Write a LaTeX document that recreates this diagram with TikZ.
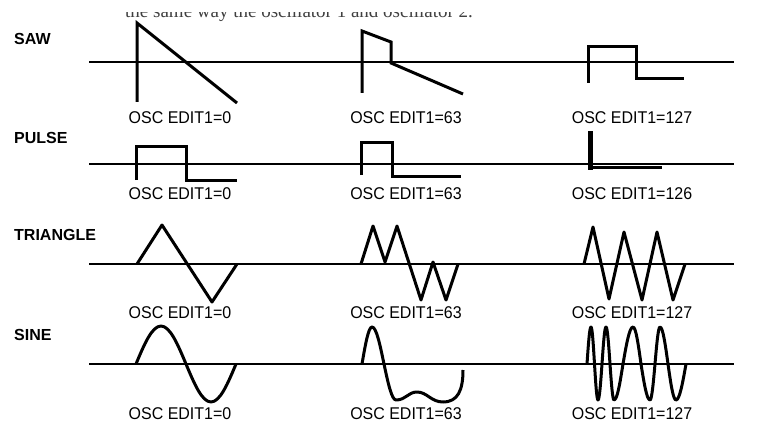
\documentclass[tikz,border=0pt]{standalone}
\usepackage{fontspec}
\setmainfont{Liberation Sans}
\newfontfamily\bodyserif{Liberation Serif}
\newfontfamily\oscfont[FakeStretch=0.94]{Liberation Sans}
\usetikzlibrary{positioning}

\begin{document}
\begin{tikzpicture}[x=1pt, y=-1pt,
    every node/.style={font=\fontsize{16}{18}\selectfont, inner sep=0pt},
    wave/.style={line width=3pt, line join=miter},
    sharpwave/.style={line width=3pt, line join=round},
    axis/.style={line width=2.5pt},
    title/.style={font=\fontsize{16}{18}\selectfont\bfseries, anchor=base west},
    osclabel/.style={anchor=base, font=\oscfont\fontsize{17}{19}\selectfont}]
        \useasboundingbox (0,0) rectangle (769,428);
        \fill[white] (0,0) rectangle (769,428);

        % text line cut off by the page edge
        \begin{scope}
            \clip (0,13) rectangle (769,428);
            \node[anchor=base west, font=\bodyserif\fontsize{19}{21}\selectfont, text=black!75] (intro) at (125,17.5) {the same way the oscillator 1 and oscillator 2.};
        \end{scope}

        % Axes
        \draw[line width=1.3pt] (89,62) -- (734,62);
        \foreach \y in {164,264,364}
            \draw[axis] (89,\y) -- (734,\y);

        % Row titles
        \node[title] (sawtitle) at (14,45) {SAW};
        \node[title] (pulsetitle) at (14,143) {PULSE};
        \node[title] (tritle) at (14,240) {TRIANGLE};
        \node[title] (sinetitle) at (14,340) {SINE};

        % Labels
        \foreach \row/\y/\last in {saw/123/127, pulse/199/126, tri/318/127, sine/419/127} {
            \node[osclabel] (\row-0) at (180,\y) {OSC EDIT1=0};
            \node[osclabel] (\row-63) at (406,\y) {OSC EDIT1=63};
            \node[osclabel] (\row-\last) at (632,\y) {OSC EDIT1=\last};
        }

        % SAW
        \draw[wave] (137,102) -- (137,23) -- (237,103);
        \draw[wave] (362,93) -- (362,31) -- (391,42) -- (391,63) -- (463,94);
        \draw[wave] (588,83) -- (588,47) -- (636,47) -- (636,79) -- (684,79);

        % PULSE
        \draw[wave] (136,180) -- (136,146) -- (186,146) -- (186,180) -- (237,180);
        \draw[wave] (361,175) -- (361,142) -- (392,142) -- (392,176) -- (461,176);
        \draw[line width=5pt] (590,131) -- (590,170);
        \draw[wave] (590,167) -- (662,167);

        % TRIANGLE
        \draw[sharpwave] (137,264) -- (162,225) -- (212,302) -- (237,264);
        \draw[sharpwave] (361,264) -- (373,226) -- (385,262) -- (397,226) -- (421,300)
            -- (433,262) -- (446,300) -- (458,264);
        \draw[sharpwave] (584,264) -- (593,227) -- (609,299) -- (624,232) -- (642,300)
            -- (657,232) -- (673,300) -- (685,264);

        % SINE
        \draw[sharpwave] (136,364) sin (161,326) cos (186,364) sin (211,402) cos (236,364);
        \draw[sharpwave] (362,364) sin (372,327) cos (384,364) sin (396,400)
            .. controls (406,400) and (408,392) .. (417,392)
            .. controls (427,392) and (431,402) .. (443,402)
            .. controls (458,402) and (463,390) .. (463,370);
        \draw[sharpwave] (587,364) sin (591,327) cos (594.5,364) sin (598,400) cos (602,364)
            sin (606,327) cos (610,364) sin (614,400) cos (623,364)
            sin (633,327) cos (641,364) sin (650,400) cos (655,364)
            sin (660,327) cos (668,364) sin (676,400) cos (686,364);
    \end{tikzpicture}
\end{document}
